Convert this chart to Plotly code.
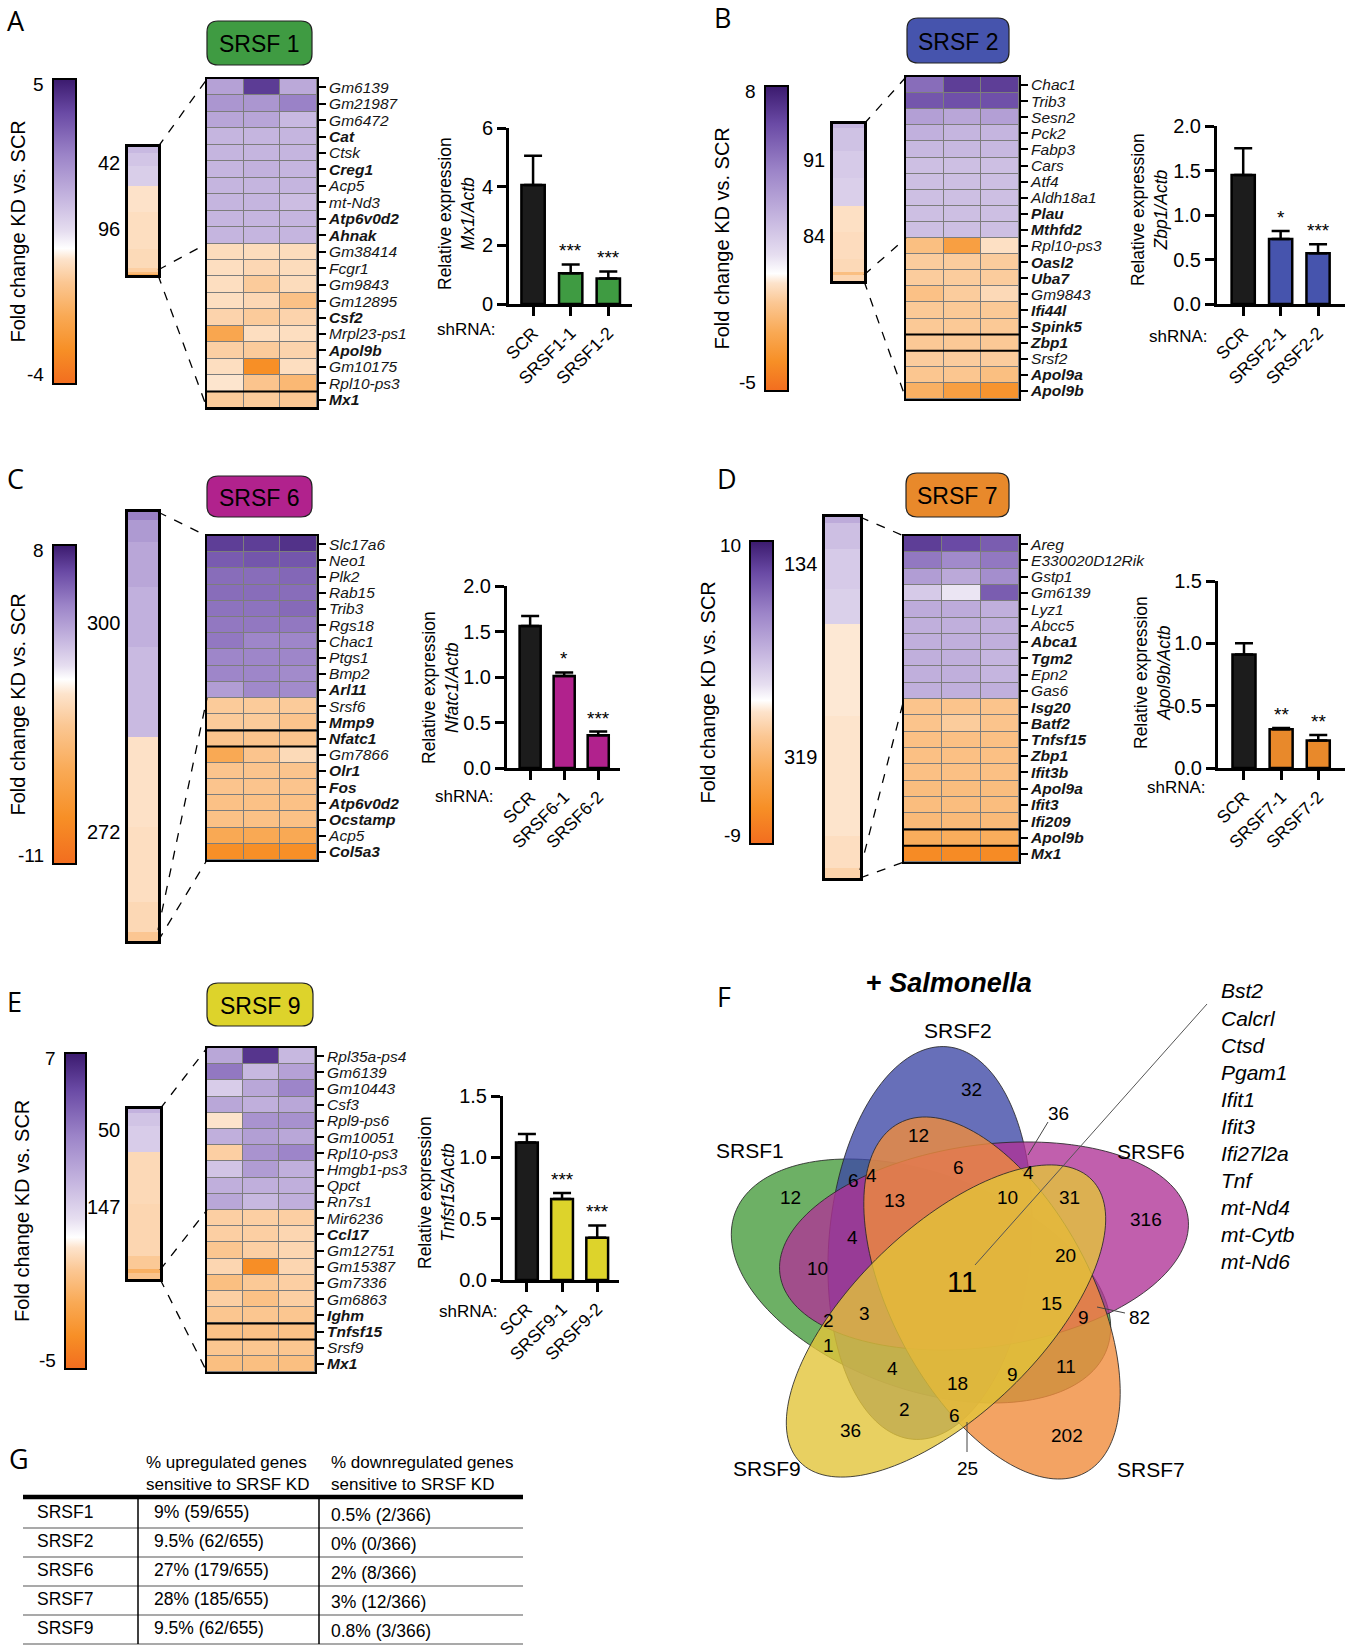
import numpy as np
import plotly.graph_objects as go

W, H = 1345, 1646
OFF = 0  # body margin is removed by the post script below
FONT = "Liberation Sans, Arial, sans-serif"
NARROW = "Liberation Sans Narrow, Arial Narrow, Liberation Sans, sans-serif"

# ======================= DATA =======================
box_titles = ["SRSF 1", "SRSF 2", "SRSF 6", "SRSF 7", "SRSF 9"]
box_colors = ["#3f9b42", "#4654ad", "#b1228d", "#e8892b", "#ddd32b"]
cbar_min = [-4, -5, -11, -9, -5]
cbar_max = [5, 8, 8, 10, 7]
n_up = [42, 91, 300, 134, 50]
n_down = [96, 84, 272, 319, 147]

genes_A = ["Gm6139", "Gm21987", "Gm6472", "Cat", "Ctsk", "Creg1", "Acp5", "mt-Nd3", "Atp6v0d2", "Ahnak",
           "Gm38414", "Fcgr1", "Gm9843", "Gm12895", "Csf2", "Mrpl23-ps1", "Apol9b", "Gm10175", "Rpl10-ps3", "Mx1"]
bold_A = ["Cat", "Creg1", "Atp6v0d2", "Ahnak", "Csf2", "Apol9b", "Mx1"]
heat_A = [[2.0, 4.3, 1.8], [2.3, 2.3, 2.8], [1.9, 1.9, 1.4], [1.5, 1.5, 1.5], [1.5, 1.5, 1.5],
          [1.5, 1.6, 1.5], [1.5, 1.5, 1.5], [1.5, 1.5, 1.3], [1.5, 1.5, 1.5], [1.5, 1.5, 1.5],
          [-0.5, -0.5, -0.5], [-0.45, -0.6, -0.5], [-0.45, -0.9, -0.5], [-0.45, -0.6, -1.2], [-0.7, -0.9, -0.7],
          [-2.1, -0.45, -0.45], [-0.8, -0.9, -0.7], [-0.45, -3.0, -0.45], [-0.3, -1.1, -1.5], [-0.9, -0.9, -1.0]]

genes_B = ["Chac1", "Trib3", "Sesn2", "Pck2", "Fabp3", "Cars", "Atf4", "Aldh18a1", "Plau", "Mthfd2",
           "Rpl10-ps3", "Oasl2", "Uba7", "Gm9843", "Ifi44l", "Spink5", "Zbp1", "Srsf2", "Apol9a", "Apol9b"]
bold_B = ["Plau", "Mthfd2", "Oasl2", "Uba7", "Ifi44l", "Spink5", "Zbp1", "Apol9a", "Apol9b"]
heat_B = [[5.2, 6.8, 6.8], [6.0, 6.2, 6.2], [3.3, 3.0, 3.3], [2.6, 2.4, 2.4], [2.3, 2.3, 2.3],
          [2.0, 2.0, 2.0], [2.0, 2.0, 2.0], [2.0, 2.0, 2.0], [2.0, 2.0, 2.0], [2.0, 2.0, 2.0],
          [-1.6, -3.0, -0.5], [-1.1, -1.1, -1.1], [-1.1, -1.1, -1.1], [-1.5, -1.1, -0.7], [-1.2, -1.2, -1.2],
          [-1.2, -1.2, -1.2], [-1.2, -1.2, -1.2], [-1.1, -1.1, -1.1], [-1.3, -1.3, -1.6], [-2.2, -3.0, -3.5]]

genes_C = ["Slc17a6", "Neo1", "Plk2", "Rab15", "Trib3", "Rgs18", "Chac1", "Ptgs1", "Bmp2", "Arl11",
           "Srsf6", "Mmp9", "Nfatc1", "Gm7866", "Olr1", "Fos", "Atp6v0d2", "Ocstamp", "Acp5", "Col5a3"]
bold_C = ["Arl11", "Mmp9", "Nfatc1", "Olr1", "Fos", "Atp6v0d2", "Ocstamp", "Col5a3"]
heat_C = [[6.8, 6.8, 7.2], [5.8, 6.0, 6.0], [5.2, 5.2, 5.4], [5.2, 5.2, 5.2], [5.0, 5.0, 5.3],
          [4.8, 4.8, 4.8], [4.8, 4.3, 4.3], [4.3, 4.3, 4.3], [4.3, 4.3, 4.1], [3.4, 4.2, 4.1],
          [-2.5, -2.5, -2.5], [-2.5, -2.5, -3.0], [-3.0, -3.0, -3.0], [-5.5, -3.0, -1.5], [-3.0, -3.0, -3.0],
          [-3.0, -3.0, -3.0], [-3.3, -3.3, -3.3], [-3.3, -3.3, -3.3], [-5.5, -5.5, -5.5], [-8.2, -8.2, -8.2]]

genes_D = ["Areg", "E330020D12Rik", "Gstp1", "Gm6139", "Lyz1", "Abcc5", "Abca1", "Tgm2", "Epn2", "Gas6",
           "Isg20", "Batf2", "Tnfsf15", "Zbp1", "Ifit3b", "Apol9a", "Ifit3", "Ifi209", "Apol9b", "Mx1"]
bold_D = ["Abca1", "Tgm2", "Isg20", "Batf2", "Tnfsf15", "Zbp1", "Ifit3b", "Apol9a", "Ifit3", "Ifi209",
          "Apol9b", "Mx1"]
heat_D = [[8.5, 8.0, 7.2], [6.0, 5.2, 6.0], [4.2, 3.6, 5.0], [2.0, 0.8, 7.2], [3.5, 3.5, 3.3],
          [3.3, 3.3, 3.3], [3.3, 3.3, 3.3], [3.3, 3.3, 3.0], [3.3, 3.3, 3.0], [3.3, 3.3, 3.3],
          [-2.5, -2.5, -2.5], [-2.5, -2.0, -2.5], [-2.8, -2.8, -2.8], [-2.8, -2.8, -2.8], [-2.8, -2.8, -2.8],
          [-3.0, -3.0, -3.0], [-3.0, -3.0, -3.0], [-3.2, -3.2, -3.2], [-4.2, -4.2, -4.2], [-7.0, -7.0, -7.0]]

genes_E = ["Rpl35a-ps4", "Gm6139", "Gm10443", "Csf3", "Rpl9-ps6", "Gm10051", "Rpl10-ps3", "Hmgb1-ps3", "Qpct",
           "Rn7s1", "Mir6236", "Ccl17", "Gm12751", "Gm15387", "Gm7336", "Gm6863", "Ighm", "Tnfsf15", "Srsf9", "Mx1"]
bold_E = ["Ccl17", "Ighm", "Tnfsf15", "Mx1"]
heat_E = [[2.6, 6.2, 2.0], [4.2, 2.0, 2.8], [1.3, 2.6, 3.8], [2.6, 2.3, 2.6], [-0.4, 3.3, 3.4],
          [2.3, 2.9, 2.6], [-1.0, 3.3, 3.8], [1.6, 3.0, 2.3], [2.3, 2.3, 2.3], [2.6, 2.0, 2.3],
          [-1.0, -1.0, -1.0], [-1.0, -1.0, -0.8], [-1.3, -1.0, -0.8], [-0.8, -3.8, -0.8], [-1.6, -1.2, -1.0],
          [-1.0, -1.5, -1.0], [-1.3, -1.3, -1.3], [-1.5, -1.5, -1.5], [-1.3, -1.3, -1.3], [-1.6, -1.6, -1.6]]

# overview strips: gene-rank edges and fold change values of each band
strip_edges_A = [0, 6, 20, 42, 70, 110, 130, 135, 137, 138]
strip_vals_A = [1.4, 1.1, 0.9, -0.35, -0.45, -0.55, -0.8, -1.4, -2.0]
strip_edges_B = [0, 5, 30, 60, 91, 120, 150, 165, 168, 175]
strip_vals_B = [2.4, 1.9, 1.6, 1.4, -0.5, -0.6, -0.7, -1.6, -0.8]
strip_edges_C = [0, 10, 40, 100, 180, 300, 420, 520, 560, 572]
strip_vals_C = [4.5, 3.5, 3.0, 2.6, 2.2, -1.0, -1.2, -1.6, -2.8]
strip_edges_D = [0, 8, 40, 90, 134, 250, 400, 440, 453]
strip_vals_D = [3.5, 2.5, 2.0, 1.7, -0.6, -0.7, -1.0, -1.6]
strip_edges_E = [0, 5, 20, 50, 110, 170, 185, 190, 197]
strip_vals_E = [2.2, 1.6, 1.3, -0.7, -0.8, -1.2, -2.2, -1.4]

# qPCR bar charts
bar_cats_A = ["SCR", "SRSF1-1", "SRSF1-2"]
bar_cats_B = ["SCR", "SRSF2-1", "SRSF2-2"]
bar_cats_C = ["SCR", "SRSF6-1", "SRSF6-2"]
bar_cats_D = ["SCR", "SRSF7-1", "SRSF7-2"]
bar_cats_E = ["SCR", "SRSF9-1", "SRSF9-2"]
bar_vals_A = [4.06, 1.05, 0.87]
bar_errs_A = [0.99, 0.30, 0.24]
bar_vals_B = [1.45, 0.73, 0.57]
bar_errs_B = [0.30, 0.09, 0.10]
bar_vals_C = [1.56, 1.01, 0.36]
bar_errs_C = [0.11, 0.04, 0.04]
bar_vals_D = [0.91, 0.31, 0.22]
bar_errs_D = [0.09, 0.01, 0.045]
bar_vals_E = [1.12, 0.66, 0.345]
bar_errs_E = [0.07, 0.05, 0.10]
bar_stars_A = ["", "***", "***"]
bar_stars_B = ["", "*", "***"]
bar_stars_C = ["", "*", "***"]
bar_stars_D = ["", "**", "**"]
bar_stars_E = ["", "***", "***"]
target_genes = ["Mx1", "Zbp1", "Nfatc1", "Apol9b", "Tnfsf15"]
bar_ymax = [6, 2.0, 2.0, 1.5, 1.5]
bar_dtick = [2, 0.5, 0.5, 0.5, 0.5]

# Venn (F)
venn_sets = ["SRSF1", "SRSF2", "SRSF6", "SRSF7", "SRSF9"]
venn_counts = [32, 36, 12, 6, 6, 4, 12, 13, 4, 10, 31, 316, 4, 10, 20, 11, 15, 9, 82,
               2, 3, 1, 4, 18, 9, 11, 2, 6, 36, 202, 25]
venn_core_genes = ["Bst2", "Calcrl", "Ctsd", "Pgam1", "Ifit1", "Ifit3", "Ifi27l2a", "Tnf",
                   "mt-Nd4", "mt-Cytb", "mt-Nd6"]

# Table (G)
table_header_up = "% upregulated genes<br>sensitive to SRSF KD"
table_header_down = "% downregulated genes<br>sensitive to SRSF KD"
table_rows = ["SRSF1", "SRSF2", "SRSF6", "SRSF7", "SRSF9"]
table_up = ["9% (59/655)", "9.5% (62/655)", "27% (179/655)", "28% (185/655)", "9.5% (62/655)"]
table_down = ["0.5% (2/366)", "0% (0/366)", "2% (8/366)", "3% (12/366)", "0.8% (3/366)"]

panels = [
    (genes_A, bold_A, heat_A, strip_edges_A, strip_vals_A, bar_cats_A, bar_vals_A, bar_errs_A, bar_stars_A),
    (genes_B, bold_B, heat_B, strip_edges_B, strip_vals_B, bar_cats_B, bar_vals_B, bar_errs_B, bar_stars_B),
    (genes_C, bold_C, heat_C, strip_edges_C, strip_vals_C, bar_cats_C, bar_vals_C, bar_errs_C, bar_stars_C),
    (genes_D, bold_D, heat_D, strip_edges_D, strip_vals_D, bar_cats_D, bar_vals_D, bar_errs_D, bar_stars_D),
    (genes_E, bold_E, heat_E, strip_edges_E, strip_vals_E, bar_cats_E, bar_vals_E, bar_errs_E, bar_stars_E),
]

# ======================= LAYOUT GEOMETRY (pixels) =======================
letter_xy = [(5, 20), (712, 18), (5, 478), (715, 478), (5, 1001)]
cbar_box = [(53, 79, 76, 384), (765, 86, 788, 391), (53, 545, 76, 864), (750, 541, 773, 844), (65, 1053, 86, 1369)]
cbar_title_x = [17, 721, 17, 707, 22]
strip_box = [(128, 147, 158, 275), (833, 124, 864, 281), (128, 512, 158, 941), (825, 517, 860, 878),
             (128, 1109, 160, 1279)]
strip_lbl_y = [(163, 229), (160, 236), (623, 832), (564, 757), (1130, 1207)]
strip_mid_y = [270, 275, 930, 870, 1270]
title_box = [(207, 21, 312, 65), (907, 18, 1009, 63), (207, 476, 312, 517), (906, 473, 1009, 517),
             (207, 983, 313, 1026)]
heat_box = [(207, 79, 317, 408), (906, 77, 1019, 399), (207, 536, 317, 860), (904, 536, 1019, 862),
            (207, 1048, 315, 1372)]
bar_box = [(509, 128, 632, 304), (1217, 126, 1345, 304), (507, 586, 620, 768), (1218, 581, 1345, 768),
           (503, 1096, 619, 1280)]
bar_xrange = [(-0.64, 2.63), (-0.7, 2.72), (-0.68, 2.64), (-0.7, 2.72), (-0.68, 2.62)]
ytitle_xy = [(457, 213), (1149, 210), (440, 688), (1152, 673), (436, 1193)]
shrna_xy = [(498, 330), (1210, 337), (496, 796), (1208, 787), (500, 1311)]


def px(x):
    return (x - OFF) / W


def py(y):
    return 1 - (y - OFF) / H


def make_cs(zmin, zmax):
    f0 = -zmin / (zmax - zmin)
    neg = [(1.0, "#f26d1f"), (0.75, "#f78f26"), (0.5, "#f9a954"), (0.25, "#fbc793"), (0.08, "#fde3cb"),
           (0.0, "#ffffff")]
    pos = [(0.1, "#e6def0"), (0.3, "#c5b5df"), (0.55, "#9c84c8"), (0.8, "#6a4aa5"), (1.0, "#3b1a6e")]
    return [[f0 * (1 - t), c] for t, c in neg] + [[f0 + (1 - f0) * t, c] for t, c in pos]


def names(n):
    return ("x" if n == 1 else f"x{n}", "y" if n == 1 else f"y{n}",
            "xaxis" if n == 1 else f"xaxis{n}", "yaxis" if n == 1 else f"yaxis{n}")


fig = go.Figure()
lay = {}
shapes = []
ann = []


def text(x, y, s, size=16, xanchor="center", yanchor="middle", angle=0, color="black", family=FONT,
         align="center"):
    ann.append(dict(x=px(x), y=py(y), xref="paper", yref="paper", text=s, showarrow=False,
                    xanchor=xanchor, yanchor=yanchor, textangle=angle, align=align,
                    font=dict(size=size, color=color, family=family)))


def pline(x0, y0, x1, y1, width=1.3, dash="solid", color="black"):
    shapes.append(dict(type="line", xref="paper", yref="paper", x0=px(x0), y0=py(y0), x1=px(x1), y1=py(y1),
                       line=dict(color=color, width=width, dash=dash)))


def rrect_path(x0, y0, x1, y1, r):
    P = lambda x, y: f"{px(x):.5f},{py(y):.5f}"
    return (f"M {P(x0 + r, y0)} L {P(x1 - r, y0)} Q {P(x1, y0)} {P(x1, y0 + r)} "
            f"L {P(x1, y1 - r)} Q {P(x1, y1)} {P(x1 - r, y1)} L {P(x0 + r, y1)} "
            f"Q {P(x0, y1)} {P(x0, y1 - r)} L {P(x0, y0 + r)} Q {P(x0, y0)} {P(x0 + r, y0)} Z")


letters = ["A", "B", "C", "D", "E"]
for i, (genes, bold, heat, sedges, svals, cats, vals, errs, stars) in enumerate(panels):
    ca = "coloraxis" if i == 0 else f"coloraxis{i + 1}"
    zmin, zmax = cbar_min[i], cbar_max[i]
    cb = cbar_box[i]
    lay[ca] = dict(cmin=zmin, cmax=zmax, colorscale=make_cs(zmin, zmax),
                   colorbar=dict(x=px(cb[0]), xanchor="left", y=py(cb[1]), yanchor="top",
                                 len=cb[3] - cb[1], lenmode="pixels", thickness=cb[2] - cb[0],
                                 thicknessmode="pixels", outlinewidth=2, outlinecolor="black",
                                 showticklabels=False, ticks="", xpad=0, ypad=0))
    text(cb[0] - 7, cb[1] + 5, str(zmax), size=19, xanchor="right")
    text(cb[0] - 7, cb[3] - 9, str(zmin), size=19, xanchor="right")
    text(cbar_title_x[i], (cb[1] + cb[3]) / 2, "Fold change KD vs. SCR", size=20, angle=-90)
    text(letter_xy[i][0], letter_xy[i][1], letters[i], size=27, xanchor="left",
         family="Open Sans, Liberation Sans, sans-serif")

    # ---- overview strip ----
    n = 3 * i + 1
    xr, yr, xk, yk = names(n)
    sb = strip_box[i]
    fig.add_trace(go.Heatmap(z=[[v] for v in svals], x=[0, 1], y=sedges, coloraxis=ca,
                             xaxis=xr, yaxis=yr, hoverinfo="skip"))
    lay[xk] = dict(domain=[px(sb[0]), px(sb[2])], anchor=yr, range=[0, 1], showticklabels=False, ticks="",
                   showgrid=False, zeroline=False, showline=True, mirror=True, linecolor="black", linewidth=2.5)
    lay[yk] = dict(domain=[py(sb[3]), py(sb[1])], anchor=xr, range=[sedges[-1], 0], showticklabels=False,
                   ticks="", showgrid=False, zeroline=False, showline=True, mirror=True, linecolor="black",
                   linewidth=2.5)
    text(sb[0] - 6, strip_lbl_y[i][0], str(n_up[i]), size=20, xanchor="right")
    text(sb[0] - 6, strip_lbl_y[i][1], str(n_down[i]), size=20, xanchor="right")

    # ---- detail heatmap ----
    n = 3 * i + 2
    xr, yr, xk, yk = names(n)
    hb = heat_box[i]
    nrow = len(genes)
    ticktext = [f"<b><i>{g}</i></b>" if g in bold else f"<i>{g}</i>" for g in genes]
    fig.add_trace(go.Heatmap(z=heat, x=[0, 1, 2], y=list(range(nrow)), coloraxis=ca, xgap=1, ygap=1,
                             xaxis=xr, yaxis=yr, hoverinfo="skip"))
    lay[xk] = dict(domain=[px(hb[0]), px(hb[2])], anchor=yr, range=[-0.5, 2.5], showticklabels=False,
                   ticks="", showgrid=False, zeroline=False, showline=True, mirror=True, linecolor="black",
                   linewidth=2)
    lay[yk] = dict(domain=[py(hb[3]), py(hb[1])], anchor=xr, range=[nrow - 0.5, -0.5], side="right",
                   tickmode="array", tickvals=list(range(nrow)), ticktext=ticktext, ticks="outside",
                   ticklen=7, tickwidth=1.5, tickcolor="black", showgrid=False, zeroline=False,
                   showline=True, mirror=True, linecolor="black", linewidth=2,
                   tickfont=dict(size=15.5, family=NARROW, color="#151515"))
    shapes.append(dict(type="rect", xref=xr, yref=yr, x0=-0.5, x1=2.5, y0=-0.5, y1=nrow - 0.5,
                       fillcolor="#7d7d7d", line=dict(width=0), layer="below"))
    k = genes.index(target_genes[i])
    for yy in (k - 0.5, k + 0.5):
        shapes.append(dict(type="line", xref=xr, yref=yr, x0=-0.5, x1=2.5, y0=yy, y1=yy,
                           line=dict(color="black", width=2)))
    row_h = (hb[3] - hb[1]) / nrow
    n_up_rows = sum(1 for row in heat if np.mean(row) > 0)
    mid_h = hb[1] + n_up_rows * row_h
    pline(sb[2], sb[1], hb[0], hb[1], dash="dash")
    pline(sb[2], strip_mid_y[i], hb[0], mid_h, dash="dash")
    pline(sb[2], sb[3], hb[0], hb[3], dash="dash")

    tb = title_box[i]
    shapes.append(dict(type="path", xref="paper", yref="paper", path=rrect_path(*tb, 11),
                       fillcolor=box_colors[i], line=dict(color="#222", width=1.2)))
    text((tb[0] + tb[2]) / 2, (tb[1] + tb[3]) / 2 + 1, box_titles[i], size=23)

    # ---- bar chart ----
    n = 3 * i + 3
    xr, yr, xk, yk = names(n)
    bb = bar_box[i]
    colors = ["#1c1c1c", box_colors[i], box_colors[i]]
    fig.add_trace(go.Bar(x=[0, 1, 2], y=vals, width=0.62, xaxis=xr, yaxis=yr,
                         marker=dict(color=colors, line=dict(color="black", width=2.5)),
                         error_y=dict(type="data", symmetric=False, array=errs, arrayminus=[0, 0, 0],
                                      color="black", thickness=2.5, width=9),
                         hoverinfo="skip"))
    lay[xk] = dict(domain=[px(bb[0]), px(bb[2])], anchor=yr, range=list(bar_xrange[i]), tickmode="array",
                   tickvals=[0, 1, 2], ticktext=cats, tickangle=-45, ticks="outside", ticklen=9, tickwidth=2.5,
                   tickcolor="black", showline=True, linecolor="black", linewidth=3, showgrid=False,
                   zeroline=False, tickfont=dict(size=17.5, family=FONT, color="black"))
    fmt = "d" if bar_dtick[i] >= 1 else ".1f"
    lay[yk] = dict(domain=[py(bb[3]), py(bb[1])], anchor=xr, range=[0, bar_ymax[i]], dtick=bar_dtick[i],
                   tick0=0, tickformat=fmt, ticks="outside", ticklen=9, tickwidth=2.5, tickcolor="black",
                   showline=True, linecolor="black", linewidth=3, showgrid=False, zeroline=False,
                   tickfont=dict(size=20, family=FONT, color="black"))
    for j, s in enumerate(stars):
        if s:
            ann.append(dict(x=j, y=vals[j] + errs[j], xref=xr, yref=yr, text=s, showarrow=False,
                            yanchor="bottom", yshift=1, font=dict(size=19, family=FONT, color="black")))
    text(ytitle_xy[i][0], ytitle_xy[i][1], f"Relative expression<br><i>{target_genes[i]}/Actb</i>",
         size=17.5, angle=-90)
    text(shrna_xy[i][0], shrna_xy[i][1], "shRNA:", size=17, xanchor="right")

# ======================= VENN (F) =======================
text(715, 996, "F", size=27, xanchor="left", family="Open Sans, Liberation Sans, sans-serif")
text(949, 983, "<b>+ <i>Salmonella</i></b>", size=27)

venn_shapes = [  # colour, cx, cy, a, b, angle(deg)
    ("rgba(60,150,50,0.75)", 921, 1281, 198, 108, -20),
    ("rgba(60,70,165,0.78)", 930, 1243, 197, 101, 85),
    ("rgba(175,50,150,0.78)", 984, 1246, 206, 101, 8),
    ("rgba(240,140,60,0.8)", 992, 1298, 198, 100, -62),
    ("rgba(226,196,58,0.8)", 946, 1321, 203, 93, 44),
]
tt = np.linspace(0, 2 * np.pi, 160, endpoint=False)
for col, cx, cy, a, b, ang in venn_shapes:
    th = np.radians(ang)
    xs = cx + a * np.cos(tt) * np.cos(th) - b * np.sin(tt) * np.sin(th)
    ys = cy - (a * np.cos(tt) * np.sin(th) + b * np.sin(tt) * np.cos(th))
    path = "M " + " L ".join(f"{px(x):.5f},{py(y):.5f}" for x, y in zip(xs, ys)) + " Z"
    shapes.append(dict(type="path", xref="paper", yref="paper", path=path, fillcolor=col,
                       line=dict(color="rgba(40,40,40,0.85)", width=1)))

venn_label_xy = [(750, 1150), (958, 1030), (1151, 1151), (1151, 1469), (767, 1468)]
for s, (x, y) in zip(venn_sets, venn_label_xy):
    text(x, y, s, size=21)

venn_count_xy = [(971, 1089), (1058, 1113), (918, 1135), (958, 1167), (853, 1180), (871, 1175), (790, 1197),
                 (894, 1200), (1028, 1172), (1007, 1197), (1069, 1197), (1146, 1219), (852, 1237),
                 (817, 1268), (1065, 1255), (962, 1282), (1051, 1303), (1083, 1317), (1139, 1317),
                 (828, 1320), (864, 1313), (828, 1345), (892, 1368), (957, 1383), (1012, 1374),
                 (1066, 1366), (905, 1409), (955, 1415), (851, 1430), (1067, 1435), (967, 1468)]
for c, (x, y) in zip(venn_counts, venn_count_xy):
    big = (x, y) == (962, 1282)
    text(x, y, str(c), size=29 if big else 19)
pline(1048, 1122, 1028, 1155, width=1, color="#444")
pline(1097, 1307, 1125, 1313, width=1, color="#444")
pline(967, 1422, 967, 1452, width=1, color="#444")
pline(975, 1265, 1207, 1004, width=1, color="#555")
for k, g in enumerate(venn_core_genes):
    text(1219, 991 + 27.0 * k, f"<i>{g}</i>", size=21, xanchor="left", family=NARROW)

# ======================= TABLE (G) =======================
text(7, 1458, "G", size=27, xanchor="left", family="Open Sans, Liberation Sans, sans-serif")
text(144, 1473, table_header_up, size=17, xanchor="left", align="left")
text(329, 1473, table_header_down, size=17, xanchor="left", align="left")
pline(23, 1497, 523, 1497, width=4.5)
row_y = [1512, 1541, 1570, 1599, 1628]
for k in range(len(table_rows)):
    text(35, row_y[k], table_rows[k], size=17.5, xanchor="left")
    text(152, row_y[k], table_up[k], size=17.5, xanchor="left")
    text(329, row_y[k] + 3, table_down[k], size=17.5, xanchor="left")
    pline(23, row_y[k] + 16, 523, row_y[k] + 16, width=1.2, color="#555")
pline(138, 1499, 138, 1644, width=1.5)
pline(319, 1499, 319, 1644, width=1.5)

lay.update(dict(width=W, height=H, margin=dict(l=0, r=0, t=0, b=0, autoexpand=False),
                paper_bgcolor="white", plot_bgcolor="white", showlegend=False,
                font=dict(family=FONT, color="black"), shapes=shapes, annotations=ann))
fig.update_layout(**lay)
fig.write_html("out.html", config={"displayModeBar": False},
               post_script="document.body.style.margin='0px';document.body.style.padding='0px';")
